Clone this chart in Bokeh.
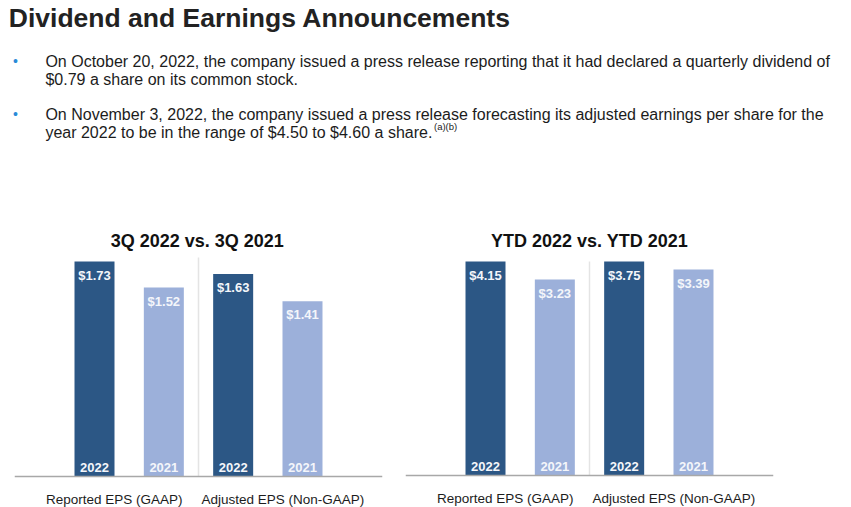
from bokeh.plotting import figure
from bokeh.models import Range1d, FactorRange, ColumnDataSource, Span
from bokeh.layouts import column, row
from bokeh.embed import file_html
from bokeh.resources import INLINE
from bokeh.core.properties import value

# ---------------- data ----------------
PAGE_TITLE = "Dividend and Earnings Announcements"
BULLET_1 = ["On October 20, 2022, the company issued a press release reporting that it had declared a quarterly dividend of",
            "$0.79 a share on its common stock."]
BULLET_2 = ["On November 3, 2022, the company issued a press release forecasting its adjusted earnings per share for the",
            "year 2022 to be in the range of $4.50 to $4.60 a share."]
FOOTNOTE_MARK = "(a)(b)"

MEASURES = ["Reported EPS (GAAP)", "Adjusted EPS (Non-GAAP)"]
YEARS = ["2022", "2021"]

Q3_TITLE = "3Q 2022 vs. 3Q 2021"
Q3_REPORTED = [1.73, 1.52]
Q3_ADJUSTED = [1.63, 1.41]

YTD_TITLE = "YTD 2022 vs. YTD 2021"
YTD_REPORTED = [4.15, 3.23]
YTD_ADJUSTED = [3.75, 3.39]

# ---------------- style ----------------
FONT = value("Liberation Sans")
DARK = "#2c5785"
LIGHT = "#9cb0da"
TEXT = "#1c1c1c"
BULLET_BLUE = "#2a8ad8"

W, H = 851, 507
HEAD_H = 252
CH_H = H - HEAD_H
FRAME_W = 368
LEFT_W = 405
SHIFT = 0.33  # renderer places alphabetic text this many em lower


def bl(y, size):
    """baseline position corrected for the renderer's text box offset"""
    return y - SHIFT * size


def bare(p):
    p.outline_line_color = None
    p.background_fill_color = "white"
    p.border_fill_color = "white"
    p.grid.visible = False
    return p


# ---------------- header ----------------
head = figure(width=W, height=HEAD_H, x_range=Range1d(0, W), y_range=Range1d(HEAD_H, 0),
              output_backend="svg", toolbar_location=None, title=None,
              x_axis_location=None, y_axis_location=None, min_border=0)
bare(head)

head.text(x=[8.3], y=[bl(26.7, 26.5)], text=[PAGE_TITLE], text_font=FONT, text_font_style="bold",
          text_font_size="26.5px", text_color="#222222", text_baseline="alphabetic")

bullet_tops = [66.0, 119.0]
line_step = 18.3
for top, lines in zip(bullet_tops, [BULLET_1, BULLET_2]):
    head.text(x=[15], y=[bl(top - 1, 14)], text=["\u2022"], text_font=FONT, text_font_size="14px",
              text_color=BULLET_BLUE, text_align="center", text_baseline="alphabetic")
    head.text(x=[44.9] * len(lines), y=[bl(top + i * line_step, 16) for i in range(len(lines))],
              text=lines, text_font=FONT, text_font_size="16px", text_color=TEXT,
              text_baseline="alphabetic")

head.text(x=[433.5], y=[bl(129, 9.5)], text=[FOOTNOTE_MARK], text_font=FONT, text_font_size="9.5px",
          text_color=TEXT, text_baseline="alphabetic")

for tx, title in zip([196.7, 589.0], [Q3_TITLE, YTD_TITLE]):
    head.text(x=[tx], y=[bl(246.4, 18)], text=[title], text_font=FONT, text_font_style="bold",
              text_font_size="18px", text_color="#111111", text_align="center",
              text_baseline="alphabetic")


# ---------------- charts ----------------
def make_chart(reported, adjusted, px_per_unit, floors, base_from_top, divider_px,
               border_left, border_right):
    factors = [(m, y) for m in MEASURES for y in YEARS]
    xr = FactorRange(*factors, group_padding=0, factor_padding=0,
                     range_padding=0.654, range_padding_units="absolute")
    ranges = [Range1d(fl - (CH_H - base_from_top) / k, fl + base_from_top / k)
              for k, fl in zip(px_per_unit, floors)]
    p = figure(width=border_left + FRAME_W + border_right, height=CH_H, x_range=xr,
               y_range=ranges[0], output_backend="svg", toolbar_location=None, title=None,
               x_axis_location=None, y_axis_location=None,
               min_border_left=border_left, min_border_right=border_right,
               min_border_top=0, min_border_bottom=0)
    bare(p)
    p.extra_y_ranges = {"second": ranges[1]}
    names = ["default", "second"]

    # divider between the two groups
    p.segment(x0=[(MEASURES[0], YEARS[-1], 0.5)], x1=[(MEASURES[0], YEARS[-1], 0.5)],
              y0=[floors[0]], y1=[floors[0] + divider_px / px_per_unit[0]],
              line_color="#e4e4e4", line_width=1.5)

    cat_shift = [-15, 15]
    for i, (m, vals) in enumerate(zip(MEASURES, [reported, adjusted])):
        src = ColumnDataSource(dict(
            x=[(m, y) for y in YEARS], top=vals, color=[DARK, LIGHT],
            lab=["$%.2f" % v for v in vals], year=YEARS))
        p.vbar(x="x", top="top", bottom=floors[i], width=0.577, fill_color="color",
               line_color=None, source=src, y_range_name=names[i])
        p.text(x="x", y="top", text="lab", source=src, y_range_name=names[i],
               text_font=FONT, text_font_style="bold", text_font_size="13px",
               text_color="#f4f6fa", text_align="center", text_baseline="alphabetic",
               y_offset=bl(18, 13))
        p.text(x="x", y=floors[i], text="year", source=src, y_range_name=names[i],
               text_font=FONT, text_font_style="bold", text_font_size="13px",
               text_color="#f4f6fa", text_align="center", text_baseline="alphabetic",
               y_offset=bl(-4.5, 13))
        p.text(x=[m], y=[floors[i]], text=[m], y_range_name=names[i],
               text_font=FONT, text_font_size="13.5px", text_color=TEXT,
               text_align="center", text_baseline="alphabetic",
               x_offset=cat_shift[i], y_offset=bl(27.5, 13.5))

    p.add_layout(Span(location=floors[0], dimension="width", line_color="#a8a8a8",
                      line_width=1.6))
    return p


left = make_chart(Q3_REPORTED, Q3_ADJUSTED, px_per_unit=[124.28, 124.28], floors=[0.0, 0.0],
                  base_from_top=476 - HEAD_H, divider_px=219,
                  border_left=14, border_right=LEFT_W - 14 - FRAME_W)
right = make_chart(YTD_REPORTED, YTD_ADJUSTED, px_per_unit=[19.565, 22.22],
                   floors=[-6.788, -5.88], base_from_top=475 - HEAD_H, divider_px=214,
                   border_left=0, border_right=W - LEFT_W - FRAME_W)

layout = column(head, row(left, right))
open("out.html", "w").write(file_html(layout, INLINE))
